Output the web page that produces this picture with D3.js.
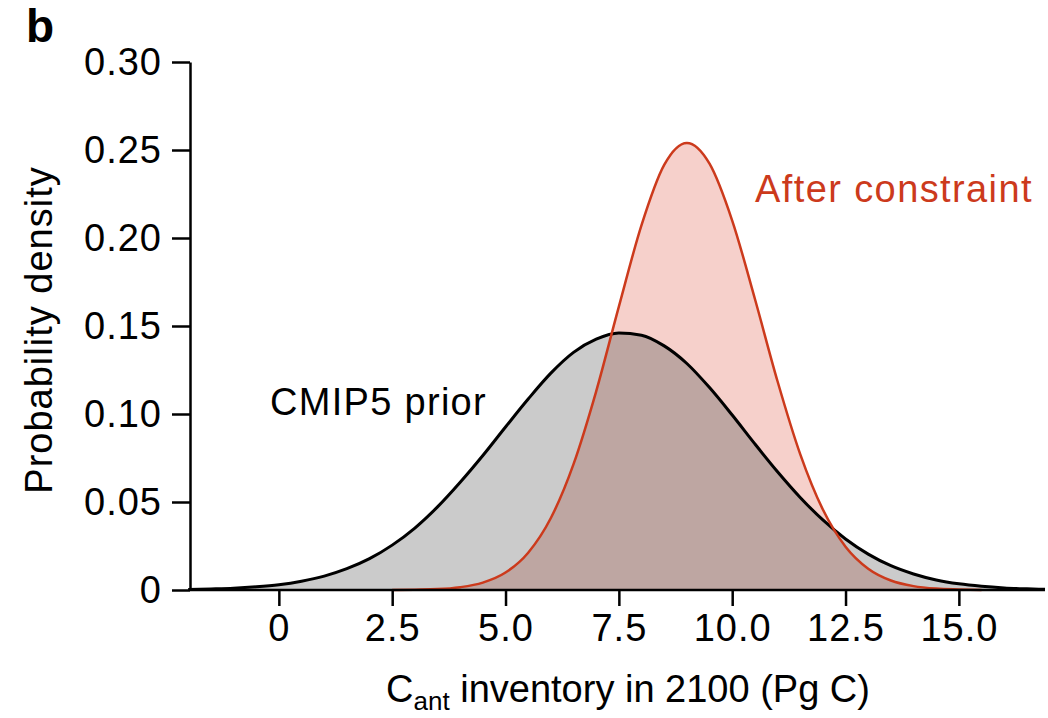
<!DOCTYPE html>
<html>
<head>
<meta charset="utf-8">
<script src="https://cdn.jsdelivr.net/npm/d3@7"></script>
<style>
  body { margin: 0; background: #fff; }
  svg { font-family: "Liberation Sans", Arial, Helvetica, sans-serif; }
</style>
</head>
<body>
<div id="chart"></div>
<script>
// CMIP5 prior density
const priorX = [-2, -1.5, -1, -0.5, 0, 0.5, 1, 1.5, 2, 2.5, 3, 3.5, 4, 4.5, 5, 5.5, 6, 6.5, 7, 7.5,
  8, 8.5, 9, 9.5, 10, 10.5, 11, 11.5, 12, 12.5, 13, 13.5, 14, 14.5, 15, 15.5, 16, 16.5, 16.9];
const priorY = [0.0003, 0.0006, 0.0010, 0.0018, 0.0030, 0.0050, 0.0079, 0.0121, 0.0178, 0.0255, 0.0352, 0.0472, 0.0612, 0.0764, 0.0926, 0.1085, 0.1232, 0.1350, 0.1425, 0.1460,
  0.1448, 0.1387, 0.1287, 0.1150, 0.0994, 0.0830, 0.0672, 0.0526, 0.0398, 0.0290, 0.0204, 0.0138, 0.0091, 0.0057, 0.0035, 0.0021, 0.0012, 0.0007, 0.0004];

// after the emergent constraint
const postX = [2.5, 3, 3.5, 4, 4.5, 5, 5.5, 6, 6.5, 7, 7.5, 8, 8.5, 9,
  9.5, 10, 10.5, 11, 11.5, 12, 12.5, 13, 13.5, 14, 14.5, 15, 15.5];
const postY = [0.0000, 0.0002, 0.0005, 0.0016, 0.0042, 0.0099, 0.0212, 0.0409, 0.0715, 0.1129, 0.1610, 0.2073, 0.2415, 0.2540,
  0.2422, 0.2099, 0.1655, 0.1186, 0.0772, 0.0457, 0.0246, 0.0121, 0.0054, 0.0022, 0.0008, 0.0003, 0.0000];

const xTicks = [0, 2.5, 5, 7.5, 10, 12.5, 15];
const xTickLabels = ['0', '2.5', '5.0', '7.5', '10.0', '12.5', '15.0'];
const yTicks = [0, 0.05, 0.10, 0.15, 0.20, 0.25, 0.30];
const yTickLabels = ['0', '0.05', '0.10', '0.15', '0.20', '0.25', '0.30'];

const width = 1048, height = 718;
const margin = { top: 62, right: 3, bottom: 128, left: 190 };

const svg = d3.select('#chart')
  .append('svg')
  .attr('width', width)
  .attr('height', height);

const x = d3.scaleLinear().domain([-1.96, 16.9]).range([margin.left, width - margin.right]);
const y = d3.scaleLinear().domain([0, 0.30]).range([height - margin.bottom, margin.top]);

const prior = priorX.map((d, i) => [d, priorY[i]]);
const post = postX.map((d, i) => [d, postY[i]]);

const area = d3.area()
  .x(d => x(d[0]))
  .y0(y(0))
  .y1(d => y(d[1]))
  .curve(d3.curveMonotoneX);
const line = d3.line()
  .x(d => x(d[0]))
  .y(d => y(d[1]))
  .curve(d3.curveMonotoneX);

// clip used to colour the overlap of the two densities
svg.append('clipPath')
  .attr('id', 'priorClip')
  .append('path')
  .attr('d', area(prior));

svg.append('path').attr('d', area(prior)).attr('fill', '#cbcbcb');
svg.append('path').attr('d', area(post)).attr('fill', '#f6d0cb');
svg.append('path').attr('d', area(post)).attr('fill', '#bea6a2').attr('clip-path', 'url(#priorClip)');

svg.append('path').attr('d', line(prior))
  .attr('fill', 'none').attr('stroke', '#000').attr('stroke-width', 3);
svg.append('path').attr('d', line(post))
  .attr('fill', 'none').attr('stroke', '#cc3a1c').attr('stroke-width', 2.5);

// axes
const xAxis = svg.append('g')
  .attr('transform', `translate(0,${y(0)})`)
  .call(d3.axisBottom(x).tickValues(xTicks).tickFormat((d, i) => xTickLabels[i]).tickSize(16).tickSizeOuter(0).tickPadding(8));
const yAxis = svg.append('g')
  .attr('transform', `translate(${margin.left},0)`)
  .call(d3.axisLeft(y).tickValues(yTicks).tickFormat((d, i) => yTickLabels[i]).tickSize(18).tickSizeOuter(0).tickPadding(10));

[xAxis, yAxis].forEach(g => {
  g.select('.domain').attr('stroke', '#000').attr('stroke-width', 2.5);
  g.selectAll('.tick line').attr('stroke', '#000').attr('stroke-width', 2.5);
  g.selectAll('.tick text')
    .attr('fill', '#000')
    .style('font-size', '38px')
    .style('letter-spacing', '1px')
    .style('font-family', '"Liberation Sans", Arial, sans-serif');
});
xAxis.select('.domain').attr('d', `M${margin.left},0H${width - margin.right}`);

// axis labels
const xl = svg.append('text')
  .attr('x', 628)
  .attr('y', 702)
  .attr('text-anchor', 'middle')
  .style('font-size', '38px');
xl.append('tspan').text('C');
xl.append('tspan').attr('dy', 8).style('font-size', '26px').text('ant');
xl.append('tspan').attr('dy', -8).text(' inventory in 2100 (Pg C)');

svg.append('text')
  .attr('transform', 'translate(52,330) rotate(-90)')
  .attr('text-anchor', 'middle')
  .style('font-size', '38px')
  .style('letter-spacing', '1px')
  .text('Probability density');

// curve labels
svg.append('text')
  .attr('x', 270).attr('y', 415)
  .style('font-size', '38px')
  .style('letter-spacing', '1.3px')
  .text('CMIP5 prior');
svg.append('text')
  .attr('x', 755).attr('y', 202)
  .attr('fill', '#cc3a1c')
  .style('font-size', '38px')
  .style('letter-spacing', '1.4px')
  .text('After constraint');

// panel letter
svg.append('text')
  .attr('x', 26).attr('y', 42)
  .style('font-size', '46px')
  .style('font-weight', 'bold')
  .text('b');
</script>
</body>
</html>
